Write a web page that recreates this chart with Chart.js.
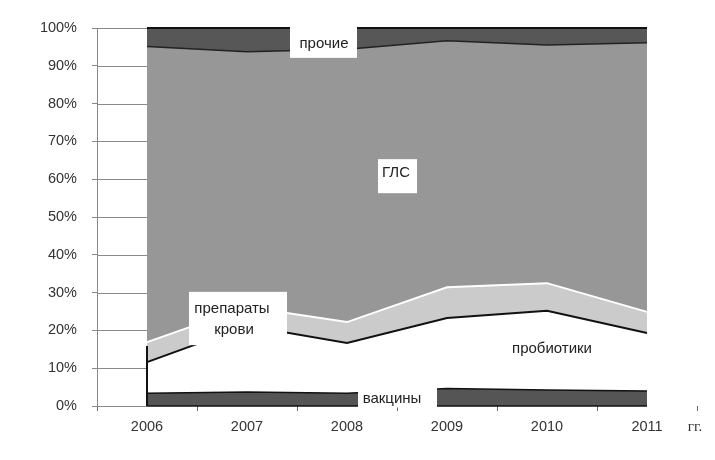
<!DOCTYPE html>
<html>
<head>
<meta charset="utf-8">
<script src="https://cdn.jsdelivr.net/npm/chart.js@4"></script>
<style>
  body { margin: 0; background: #fff; }
  #wrap { width: 715px; height: 460px; }
</style>
</head>
<body>
<div id="wrap"><canvas id="myChart"></canvas></div>
<script>
// values, % of total per year
const years = ['2006', '2007', '2008', '2009', '2010', '2011'];
const vakciny = [3.4, 3.7, 3.4, 4.6, 4.2, 4.0];
const probiotiki = [8.2, 17.5, 13.3, 18.7, 21.0, 15.3];
const preparatyKrovi = [5.3, 5.0, 5.5, 8.1, 7.3, 5.6];
const gls = [78.2, 67.5, 72.2, 65.2, 63.0, 71.2];
const prochie = [4.9, 6.3, 5.6, 3.4, 4.5, 3.9];

const font = "'Liberation Sans', Arial, sans-serif";

// short gridlines only left of the first year + outline bits
const gridBits = {
  id: 'gridBits',
  beforeDatasetsDraw(chart) {
    const ctx = chart.ctx, x = chart.scales.x, y = chart.scales.y;
    const x0 = x.getPixelForValue(0);
    ctx.save();
    ctx.strokeStyle = '#8a8a8a';
    ctx.lineWidth = 1;
    y.ticks.forEach(t => {
      const py = Math.round(y.getPixelForValue(t.value)) + 0.5;
      ctx.beginPath();
      ctx.moveTo(chart.chartArea.left, py);
      ctx.lineTo(x0, py);
      ctx.stroke();
    });
    ctx.restore();
  },
  afterDatasetsDraw(chart) {
    const ctx = chart.ctx, x = chart.scales.x, y = chart.scales.y;
    const x0 = x.getPixelForValue(0);
    const xN = x.getPixelForValue(years.length - 1);
    ctx.save();
    ctx.strokeStyle = '#111';
    ctx.lineWidth = 2;
    ctx.beginPath();
    ctx.moveTo(x0, y.getPixelForValue(0));
    ctx.lineTo(x0, y.getPixelForValue(vakciny[0] + probiotiki[0] + preparatyKrovi[0]) + 4);
    ctx.stroke();
    ctx.lineWidth = 1.5;
    ctx.beginPath();
    ctx.moveTo(x0, y.getPixelForValue(0));
    ctx.lineTo(xN, y.getPixelForValue(0));
    ctx.stroke();
    ctx.restore();
  }
};

// series names written on the chart
const seriesLabels = {
  id: 'seriesLabels',
  afterDraw(chart) {
    const ctx = chart.ctx, x = chart.scales.x, y = chart.scales.y;
    const px = i => x.getPixelForValue(i);
    const py = v => y.getPixelForValue(v);
    const box = (i1, i2, v1, v2) => {
      ctx.fillStyle = '#fff';
      ctx.fillRect(px(i1), py(v1), px(i2) - px(i1), py(v2) - py(v1));
    };
    ctx.save();
    box(1.43, 2.10, 101.2, 92.1);
    box(2.31, 2.70, 65.3, 56.3);
    box(0.42, 1.40, 30.2, 16.1);
    box(2.11, 2.90, 6.1, -0.4);

    ctx.fillStyle = '#222';
    ctx.font = '15px ' + font;
    ctx.textAlign = 'center';
    ctx.textBaseline = 'middle';
    ctx.fillText('прочие', px(1.77), py(95.8));
    ctx.fillText('ГЛС', px(2.49), py(61.6));
    ctx.fillText('препараты', px(0.85), py(25.6));
    ctx.fillText('крови', px(0.87), py(20.1));
    ctx.fillText('пробиотики', px(4.05), py(15.1));
    ctx.fillText('вакцины', px(2.45), py(1.85));

    ctx.fillStyle = '#333';
    ctx.font = "15px 'Liberation Serif', 'Times New Roman', serif";
    ctx.fillText('гг.', chart.chartArea.right - 2, chart.chartArea.bottom + 21);
    ctx.restore();
  }
};

const ctx = document.getElementById('myChart').getContext('2d');
new Chart(ctx, {
  type: 'line',
  data: {
    labels: years,
    datasets: [
      { label: 'вакцины', data: vakciny, fill: 'origin', backgroundColor: '#555555', borderColor: '#111', borderWidth: 1.5 },
      { label: 'пробиотики', data: probiotiki, fill: '-1', backgroundColor: '#ffffff', borderColor: '#111', borderWidth: 2 },
      { label: 'препараты крови', data: preparatyKrovi, fill: '-1', backgroundColor: '#cbcbcb', borderColor: '#ffffff', borderWidth: 2 },
      { label: 'ГЛС', data: gls, fill: '-1', backgroundColor: '#979797', borderColor: '#222', borderWidth: 1.5 },
      { label: 'прочие', data: prochie, fill: '-1', backgroundColor: '#575757', borderColor: '#111', borderWidth: 2 }
    ]
  },
  options: {
    responsive: true,
    maintainAspectRatio: false,
    animation: false,
    layout: { padding: { top: 28, right: 18, left: 0, bottom: 0 } },
    elements: {
      point: { radius: 0, hoverRadius: 0 },
      line: { tension: 0 }
    },
    datasets: { line: { clip: 5 } },
    scales: {
      x: {
        offset: true,
        grid: { display: true, offset: true, drawOnChartArea: false, drawTicks: true, tickLength: 5, color: '#666' },
        border: { display: false },
        ticks: { color: '#333', font: { family: font, size: 14.5 }, padding: 7, maxRotation: 0 },
        afterFit(scale) { scale.height = 54; }
      },
      y: {
        stacked: true,
        min: 0,
        max: 100,
        grid: { display: true, drawOnChartArea: false, drawTicks: true, tickLength: 5, color: '#888' },
        border: { display: true, color: '#888' },
        ticks: {
          stepSize: 10,
          color: '#333',
          font: { family: font, size: 14.5 },
          padding: 15,
          callback: v => v + '%'
        },
        afterFit(scale) { scale.width = 97; }
      }
    },
    plugins: {
      legend: { display: false },
      tooltip: { enabled: false }
    }
  },
  plugins: [gridBits, seriesLabels]
});
</script>
</body>
</html>
